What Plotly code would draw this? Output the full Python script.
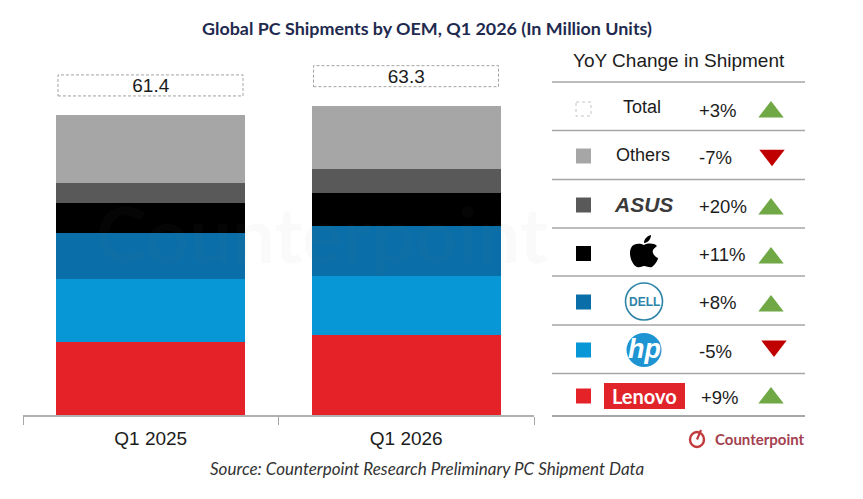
import plotly.graph_objects as go

W, H = 863, 499

quarters = ["Q1 2025", "Q1 2026"]
totals = [61.4, 63.3]
total_labels = ["61.4", "63.3"]

lenovo = [14.9, 16.4]
hp = [12.9, 12.1]
dell = [9.4, 10.2]
apple = [6.1, 6.8]
asus = [4.1, 4.9]
others = [14.0, 12.9]

series_names = ["Lenovo", "HP", "Dell", "Apple", "ASUS", "Others"]
series_values = [lenovo, hp, dell, apple, asus, others]
series_colors = ["#e52227", "#0796d6", "#0a6ea8", "#000000", "#595959", "#a6a6a6"]

# tabella YoY a destra, dall'alto verso il basso
row_changes = ["+3%", "-7%", "+20%", "+11%", "+8%", "-5%", "+9%"]
row_colors = ["#ffffff", "#a6a6a6", "#595959", "#000000", "#0a6ea8", "#0796d6", "#e52227"]
row_swatch_y = [109, 156, 205, 253.5, 302, 350, 396]
row_text_y = [110, 157, 206, 254, 302, 351, 397]
row_tri_y = [112, 155.25, 209, 258, 306, 346, 398]
row_tri_x = [771, 772, 771, 771, 771, 774, 771]
row_lines = [82, 130.5, 179.5, 228, 276, 325, 373.5, 416]

TEXT = "#1c1c1c"
ARIAL = "Liberation Sans"
GREEN = "#70a845"
RED = "#c00000"

fig = go.Figure()

for name, values, color in zip(series_names, series_values, series_colors):
    fig.add_trace(go.Bar(x=quarters, y=values, name=name, marker=dict(color=color, line_width=0)))

# etichette dei totali
fig.add_trace(
    go.Scatter(
        x=quarters,
        y=[t + 5.7 for t in totals],
        text=total_labels,
        mode="text",
        textposition="middle center",
        textfont=dict(family=ARIAL, size=19, color=TEXT),
        cliponaxis=False,
    )
)

# quadratini e triangoli della tabella, su assi in pixel
fig.add_trace(
    go.Scatter(
        x=[583.5] * 6,
        y=row_swatch_y[1:],
        mode="markers",
        marker=dict(symbol="square", size=15, color=row_colors[1:], line_width=0),
        xaxis="x2",
        yaxis="y2",
    )
)
fig.add_trace(
    go.Scatter(
        x=row_tri_x,
        y=row_tri_y,
        mode="markers",
        marker=dict(
            symbol=["triangle-down" if c.startswith("-") else "triangle-up" for c in row_changes],
            size=22,
            color=[RED if c.startswith("-") else GREEN for c in row_changes],
            line_width=0,
        ),
        xaxis="x2",
        yaxis="y2",
    )
)

shapes = []
for i, t in enumerate(totals):
    shapes.append(
        dict(
            type="rect", xref="x", yref="y",
            x0=i - 0.363, x1=i + 0.361, y0=t + 3.9, y1=t + 8.2,
            line=dict(color="#8c8c8c", width=0.8, dash="3px,2px"),
        )
    )
for y in row_lines:
    shapes.append(
        dict(
            type="line", xref="x2", yref="y2", x0=552, x1=805, y0=y, y1=y,
            line=dict(color="#a6a6a6", width=1.3 if y != 416 else 2),
        )
    )


def px_shape(kind, x0, y0, x1, y1, **kw):
    return dict(type=kind, xref="x2", yref="y2", x0=x0, y0=y0, x1=x1, y1=y1, **kw)


# swatch tratteggiato di Total
shapes.append(px_shape("rect", 576, 102, 591, 116, line=dict(color="#c4c4c4", width=1, dash="dot")))
# logo Dell
shapes.append(px_shape("circle", 625.5, 283, 662.5, 320, line=dict(color="#2e84a6", width=1.6)))
# logo HP
shapes.append(px_shape("circle", 626.5, 333, 661.5, 367, fillcolor="#1f94d2", line_width=0))
# logo Lenovo
shapes.append(px_shape("rect", 604, 383, 685, 409, fillcolor="#e1232a", line_width=0))
# logo Apple
shapes.append(
    dict(
        type="path", xref="x2", yref="y2", fillcolor="#000000", line_width=0,
        path="M644,245 C640,243 633,243 631,248 C628,254 632,265 637,267 C640,268 642,266 644,266 "
        "C647,266 649,268 652,267 C655,265 658,260 658,258 C654,256 652,253 653,250 "
        "C654,248 656,247 657,246 C654,243 648,243 644,245 Z "
        "M644,243 C644,239 647,236 651,235 C651,239 648,243 644,243 Z",
    )
)
# logo Counterpoint
shapes.append(px_shape("circle", 690, 432, 704, 447, line=dict(color="#c0393b", width=2.4)))
shapes.append(px_shape("line", 697, 439.5, 701, 430, line=dict(color="#c0393b", width=2.2)))


def label(text, x, y, size=18, color=TEXT, family=ARIAL, xanchor="center", **kw):
    return dict(
        text=text, x=x, y=y, xref="x2", yref="y2", showarrow=False,
        xanchor=xanchor, yanchor="middle",
        font=dict(family=family, size=size, color=color), **kw
    )


annotations = [
    # filigrana
    label("<b>Counterpoint</b>", 322, 233, size=76, color="rgba(120,120,120,0.04)", family="Lato"),
    label("YoY Change in Shipment", 679, 60, size=19),
    label("Total", 642, 107, size=18),
    label("Others", 643, 155, size=18),
    label("<b><i>ASUS</i></b>", 643.5, 204, size=21, color="#3a3a3a"),
    label("<b>DELL</b>", 644, 301.5, size=12, color="#2e84a6"),
    label("<b><i>hp</i></b>", 644, 349, size=27, color="#ffffff"),
    label("<b>Lenovo</b>", 644.5, 396, size=20, color="#ffffff", family="Lato"),
    label("<b>Counterpoint</b>", 760, 439, size=15, color="#a3414f", family="Lato"),
    label(
        "<i>Source: Counterpoint Research Preliminary PC Shipment Data</i>",
        208, 468.5, size=17, color="#333333", family="Lato", xanchor="left",
    ),
]
for i, change in enumerate(row_changes):
    annotations.append(
        label(change, 698.5 if i == 6 else 696.5, row_text_y[i], size=18.5, xanchor="left")
    )

fig.update_layout(
    width=W,
    height=H,
    autosize=False,
    barmode="stack",
    bargap=0.26,
    showlegend=False,
    paper_bgcolor="white",
    plot_bgcolor="rgba(0,0,0,0)",
    margin=dict(l=0, r=0, t=0, b=0),
    title=dict(
        text="<b>Global PC Shipments by OEM, Q1 2026 (In Million Units)</b>",
        x=427 / W,
        xanchor="center",
        y=1 - 29 / H,
        yanchor="middle",
        font=dict(family="Lato", size=17.9, color="#1f2a4f"),
    ),
    xaxis=dict(
        domain=[23 / W, 534 / W],
        range=[-0.5, 1.5],
        type="category",
        tickson="boundaries",
        ticks="outside",
        ticklen=8,
        tickcolor="#a6a6a6",
        showline=True,
        linecolor="#b0b0b0",
        linewidth=2,
        showgrid=False,
        ticklabelstandoff=5,
        tickfont=dict(family=ARIAL, size=19, color=TEXT),
        anchor="y",
    ),
    yaxis=dict(
        domain=[(H - 415) / H, (H - 40) / H],
        range=[0, 375 / 4.886],
        visible=False,
        anchor="x",
    ),
    xaxis2=dict(domain=[0, 1], range=[0, W], visible=False, anchor="y2"),
    yaxis2=dict(domain=[0, 1], range=[H, 0], visible=False, anchor="x2"),
    shapes=shapes,
    annotations=annotations,
)

# la pagina ha un margine di 8px di default sul body
fig.write_html(
    "out.html",
    config={"displayModeBar": False},
    post_script="document.body.style.margin='0';",
)
